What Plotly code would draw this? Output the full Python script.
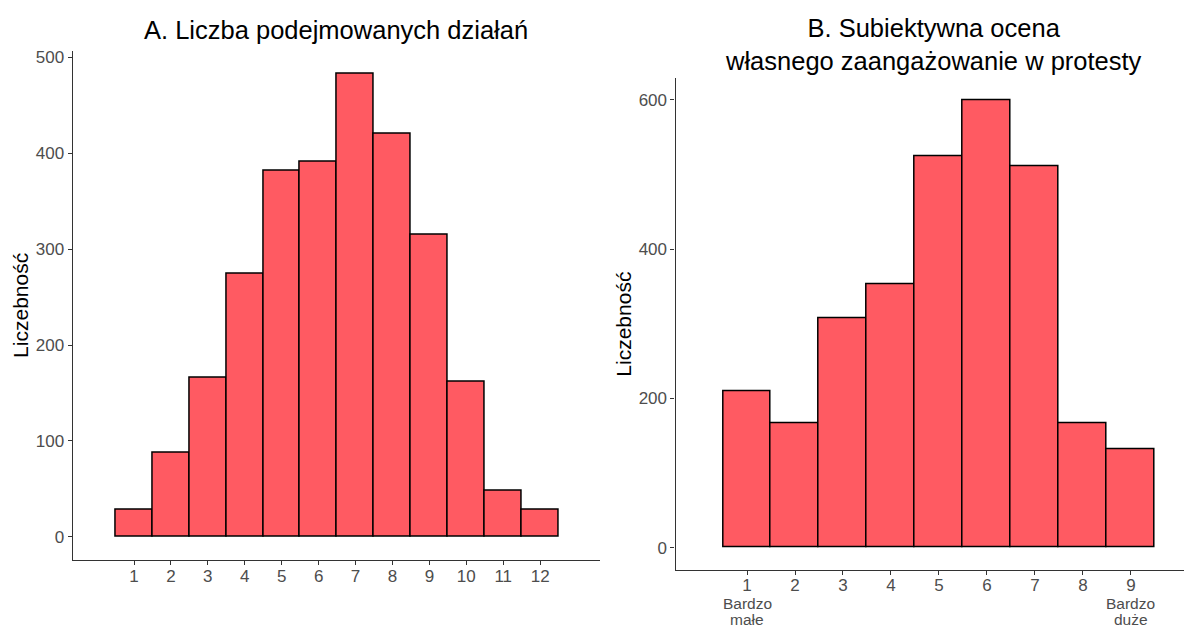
import plotly.graph_objects as go

# Panel A: number of actions taken
actions = list(range(1, 13))
actions_count = [28, 88, 166, 274, 382, 391, 483, 420, 315, 162, 48, 28]

# Panel B: self-rated engagement (1-9)
rating = list(range(1, 10))
rating_count = [210, 166, 307, 353, 525, 599, 511, 167, 132]
rating_ticks = [str(r) for r in rating]
# extra captions under the end points of the scale
end_labels = {1: ["Bardzo", "małe"], 9: ["Bardzo", "duże"]}

title_a = "A. Liczba podejmowanych działań"
title_b = "B. Subiektywna ocena<br>własnego zaangażowanie w protesty"
y_title = "Liczebność"

FILL = "#FF5A62"
FONT = "Liberation Sans, Arial, sans-serif"
TICK_COL = "#4D4D4D"
AXIS_COL = "#333333"

# page body has an 8px margin, so the figure is drawn 8px smaller
W, H = 1184, 620

fig = go.Figure()

fig.add_trace(go.Bar(
    x=actions, y=actions_count, width=1,
    marker=dict(color=FILL, line=dict(color="black", width=1.5)),
    xaxis="x", yaxis="y", showlegend=False,
))
fig.add_trace(go.Bar(
    x=rating, y=rating_count, width=1,
    marker=dict(color=FILL, line=dict(color="black", width=1.5)),
    xaxis="x2", yaxis="y2", showlegend=False,
))

axis_common = dict(
    showgrid=False, zeroline=False, showline=True, linecolor=AXIS_COL, linewidth=1.2,
    ticks="outside", ticklen=4, tickcolor=AXIS_COL, tickwidth=1.2, automargin=False,
)
tick_font = dict(family=FONT, size=17, color=TICK_COL)
ytitle_font = dict(family=FONT, size=21, color="black")

fig.update_layout(
    width=W, height=H,
    margin=dict(l=0, r=0, t=0, b=0),
    paper_bgcolor="white", plot_bgcolor="white",
    bargap=0,
    font=dict(family=FONT),
    xaxis=dict(domain=[0.05465, 0.5], anchor="y", range=[-0.66, 13.62],
               tickmode="array", tickvals=actions, ticktext=[str(a) for a in actions],
               tickfont=tick_font, ticklabelstandoff=-3, **axis_common),
    yaxis=dict(domain=[0.1097, 0.9311], anchor="x", range=[-24.2, 507],
               tickvals=[0, 100, 200, 300, 400, 500], tickfont=tick_font,
               title=dict(text=y_title, font=ytitle_font, standoff=1),
               **axis_common),
    xaxis2=dict(domain=[0.5638, 0.9966], anchor="y2", range=[-0.49, 10.19],
                tickmode="array", tickvals=rating, ticktext=rating_ticks,
                tickfont=tick_font, ticklabelstandoff=-4, **axis_common),
    yaxis2=dict(domain=[0.09355, 0.8866], anchor="x2", range=[-30, 629],
                tickvals=[0, 200, 400, 600], tickfont=tick_font,
                title=dict(text=y_title, font=ytitle_font, standoff=1),
                **axis_common),
)

fig.add_annotation(text=title_a, x=328 / W, y=1 - 22 / H, xref="paper", yref="paper",
                   showarrow=False, xanchor="center", yanchor="middle",
                   font=dict(family=FONT, size=25.5, color="black"))
fig.add_annotation(text=title_b, x=925 / W, y=1 - 36 / H, xref="paper", yref="paper",
                   showarrow=False, xanchor="center", yanchor="middle",
                   font=dict(family=FONT, size=25.5, color="black"))

# end-point captions, one line each so the line spacing stays tight
for val, lines in end_labels.items():
    for i, line in enumerate(lines):
        fig.add_annotation(text=line, x=val, xref="x2", y=1 - (595.5 + 16 * i) / H, yref="paper",
                           showarrow=False, xanchor="center", yanchor="middle", borderpad=0,
                           font=dict(family=FONT, size=15.5, color=TICK_COL))

fig.write_html("out.html")
